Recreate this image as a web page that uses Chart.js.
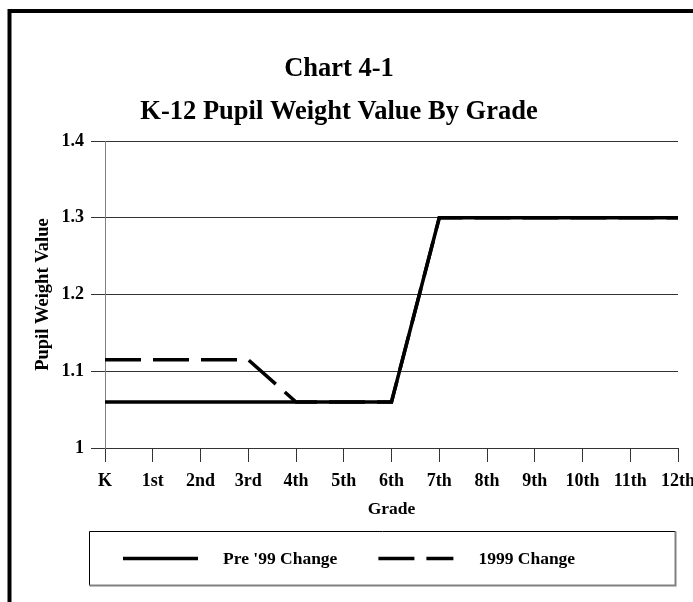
<!DOCTYPE html>
<html><head><meta charset="utf-8">
<script src="https://cdn.jsdelivr.net/npm/chart.js@4.4.1/dist/chart.umd.min.js"></script>
<style>html,body{margin:0;padding:0;background:#fff;}#wrap{width:693px;height:602px;position:relative;}</style>
</head><body><div id="wrap"><canvas id="c" width="693" height="602"></canvas></div>
<script>
const grades = ['K','1st','2nd','3rd','4th','5th','6th','7th','8th','9th','10th','11th','12th'];
const pre99 = [1.06,1.06,1.06,1.06,1.06,1.06,1.06,1.3,1.3,1.3,1.3,1.3,1.3];
const change1999 = [1.115,1.115,1.115,1.115,1.06,1.06,1.06,1.3,1.3,1.3,1.3,1.3,1.3];
const yTicks = [1, 1.1, 1.2, 1.3, 1.4];
const seriesLabels = ["Pre '99 Change", "1999 Change"];
const titleLines = ['Chart 4-1', 'K-12 Pupil Weight Value By Grade'];
const xTitle = 'Grade';
const yTitle = 'Pupil Weight Value';

const FONT = "'Liberation Serif', 'Times New Roman', serif";

const framePlugin = {
  id: 'frame',
  beforeDraw(chart) {
    const ctx = chart.ctx;
    ctx.save(); ctx.fillStyle = '#fff'; ctx.fillRect(0, 0, chart.width, chart.height); ctx.restore();
  },
  afterDraw(chart) {
    const ctx = chart.ctx;
    ctx.save();
    // outer frame
    ctx.strokeStyle = '#000'; ctx.lineWidth = 4;
    ctx.strokeRect(9.5, 11, chart.width + 20, chart.height + 20);
    // legend box
    const L = 89.5, T = 531.5, R = 675.5, B = 585.5;
    ctx.lineWidth = 1; ctx.strokeStyle = '#000';
    ctx.beginPath(); ctx.moveTo(L, B); ctx.lineTo(L, T); ctx.lineTo(R, T); ctx.stroke();
    ctx.strokeStyle = '#808080'; ctx.lineWidth = 2;
    ctx.beginPath(); ctx.moveTo(R, T); ctx.lineTo(R, B); ctx.lineTo(L, B); ctx.stroke();
    // legend items
    ctx.font = "bold 17.5px " + FONT;
    ctx.textBaseline = 'middle'; ctx.textAlign = 'left'; ctx.fillStyle = '#000';
    let x = 123; const y = 558.5;
    chart.data.datasets.forEach(ds => {
      ctx.save();
      ctx.strokeStyle = ds.borderColor; ctx.lineWidth = ds.borderWidth; ctx.lineCap = 'butt';
      ctx.setLineDash(ds.borderDash || []);
      ctx.beginPath(); ctx.moveTo(x, y); ctx.lineTo(x + 75, y); ctx.stroke();
      ctx.restore();
      x += 100;
      ctx.fillText(ds.label, x, y + 1);
      x += ctx.measureText(ds.label).width + 41;
    });
    ctx.restore();
  }
};

new Chart(document.getElementById('c'), {
  type: 'line',
  data: {
    labels: grades,
    datasets: [
      { label: seriesLabels[0], data: pre99, borderColor: '#000', borderWidth: 3.5, pointRadius: 0, tension: 0, fill: false, borderCapStyle: 'butt', borderJoinStyle: 'miter' },
      { label: seriesLabels[1], data: change1999, borderColor: '#000', borderWidth: 3.5, borderDash: [36, 12], pointRadius: 0, tension: 0, fill: false, borderCapStyle: 'butt', borderJoinStyle: 'miter' }
    ]
  },
  options: {
    responsive: false,
    animation: false,
    devicePixelRatio: 1,
    layout: { padding: { left: 0, right: 15, top: 10, bottom: 0 } },
    plugins: {
      legend: { display: false },
      tooltip: { enabled: false },
      title: {
        display: true, text: titleLines, color: '#000',
        font: { family: FONT, size: 26.5, weight: 'bold', lineHeight: 1.62 },
        padding: { top: 37.5, bottom: 7.7 }
      }
    },
    scales: {
      x: {
        type: 'category', offset: false,
        grid: { drawOnChartArea: false, drawTicks: true, tickLength: 14, color: '#333', lineWidth: 1 },
        border: { display: true, color: '#333', width: 1 },
        ticks: { color: '#000', padding: 9, autoSkip: false, maxRotation: 0, font: { family: FONT, size: 18, weight: 'bold' } },
        title: { display: true, text: xTitle, color: '#000', font: { family: FONT, size: 17.5, weight: 'bold' }, padding: { top: 0, bottom: 82 } },
        afterFit(s) { s.height = 154; s.paddingLeft = 0; s.paddingRight = 0; }
      },
      y: {
        min: 1, max: 1.4,
        afterBuildTicks(s) { s.ticks = yTicks.map(v => ({ value: v })); },
        grid: { drawOnChartArea: true, drawTicks: true, tickLength: 14, color: '#333', lineWidth: 1 },
        border: { display: true, color: '#808080', width: 1 },
        ticks: { color: '#000', padding: 7, font: { family: FONT, size: 18, weight: 'bold' },
                 callback: v => String(Math.round(v * 10) / 10) },
        title: { display: true, text: yTitle, color: '#000', font: { family: FONT, size: 18.5, weight: 'bold' }, padding: { top: 32, bottom: 0 } },
        afterFit(s) { s.width = 105; s.paddingTop = 0; s.paddingBottom = 0; }
      }
    }
  },
  plugins: [framePlugin]
});
</script>
</body></html>
